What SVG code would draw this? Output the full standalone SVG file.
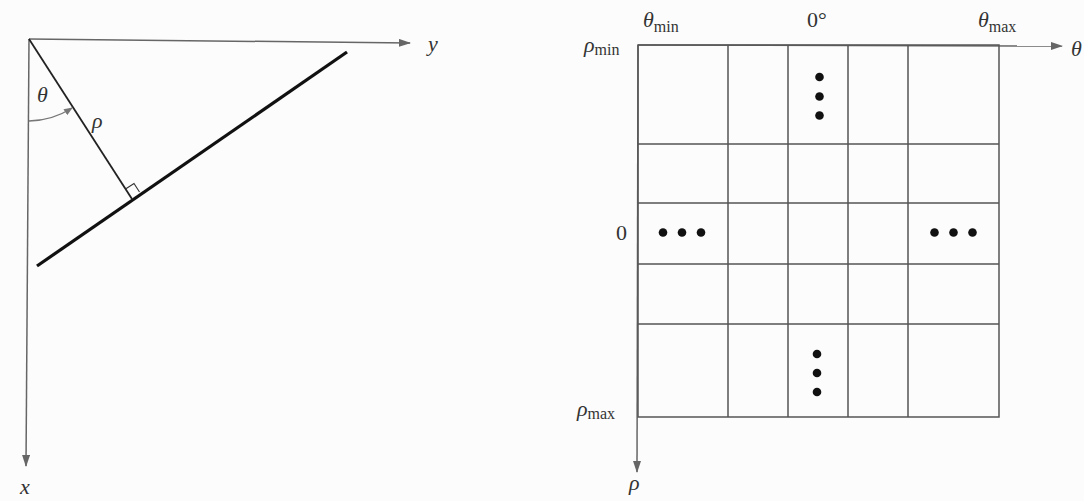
<svg xmlns="http://www.w3.org/2000/svg" width="1084" height="501" viewBox="0 0 1084 501">
<style>
.ax{stroke:#666;stroke-width:1.5;fill:none}
.gr{stroke:#555;stroke-width:1.5;fill:none}
.t{font-family:"Liberation Serif","Times New Roman",serif;font-size:22px;fill:#333}
.i{font-style:italic}
.s{font-size:16px;font-style:normal}
.dot{fill:#111}
</style>
<defs>
<marker id="ah" viewBox="0 0 12 8" refX="11" refY="4" markerWidth="12" markerHeight="8" markerUnits="userSpaceOnUse" orient="auto">
<path d="M0,0 L12,4 L0,8 Z" fill="#666"/>
</marker>
<marker id="ahs" viewBox="0 0 10 8" refX="9" refY="4" markerWidth="9" markerHeight="7" markerUnits="userSpaceOnUse" orient="auto">
<path d="M0,0 L10,4 L0,8 Z" fill="#777"/>
</marker>
</defs>
<rect width="1084" height="501" fill="#fbfcfb"/>
<g id="connectors">
<line id="y-axis" class="ax" x1="29" y1="39" x2="410" y2="43" marker-end="url(#ah)"/>
<line id="x-axis" class="ax" x1="29" y1="39" x2="26" y2="466" marker-end="url(#ah)"/>
<line id="theta-axis" class="ax" x1="638" y1="45" x2="1062" y2="46" marker-end="url(#ah)"/>
<line id="rho-axis" class="ax" x1="638" y1="45" x2="637" y2="472" marker-end="url(#ah)"/>
</g>
<g id="line-diagram">
<line id="line" x1="37" y1="266" x2="347" y2="52" stroke="#111" stroke-width="3.2"/>
<line id="normal" x1="29" y1="39" x2="132" y2="199" stroke="#222" stroke-width="1.8"/>
<path id="right-angle" d="M125.5,189 L134,183.5 L139.5,192" fill="none" stroke="#333" stroke-width="1.1"/>
<path id="theta-arc" d="M29,121 A82,82 0 0 0 72,108" fill="none" stroke="#777" stroke-width="1.3" marker-end="url(#ahs)"/>
<text class="t i" x="37" y="102">θ</text>
<text class="t i" x="92" y="128">ρ</text>
<text class="t i" x="428" y="51">y</text>
<text class="t i" x="20" y="494">x</text>
</g>
<g id="grid">
<rect class="gr" x="638" y="45" width="361" height="372"/>
<line class="gr" x1="728" y1="45" x2="728" y2="417"/>
<line class="gr" x1="788" y1="45" x2="788" y2="417"/>
<line class="gr" x1="848" y1="45" x2="848" y2="417"/>
<line class="gr" x1="908" y1="45" x2="908" y2="417"/>
<line class="gr" x1="638" y1="144" x2="999" y2="144"/>
<line class="gr" x1="638" y1="203" x2="999" y2="203"/>
<line class="gr" x1="638" y1="264" x2="999" y2="264"/>
<line class="gr" x1="638" y1="324" x2="999" y2="324"/>
</g>
<g id="dots-top"><circle class="dot" cx="819.5" cy="77" r="4.3"/><circle class="dot" cx="819.5" cy="96.5" r="4.3"/><circle class="dot" cx="819.5" cy="115.5" r="4.3"/></g>
<g id="dots-left"><circle class="dot" cx="663" cy="232.5" r="4.3"/><circle class="dot" cx="682" cy="232.5" r="4.3"/><circle class="dot" cx="701" cy="232.5" r="4.3"/></g>
<g id="dots-right"><circle class="dot" cx="934.5" cy="232.5" r="4.3"/><circle class="dot" cx="953.5" cy="232.5" r="4.3"/><circle class="dot" cx="972.5" cy="232.5" r="4.3"/></g>
<g id="dots-bottom"><circle class="dot" cx="817" cy="354" r="4.3"/><circle class="dot" cx="817" cy="373" r="4.3"/><circle class="dot" cx="817" cy="392" r="4.3"/></g>
<g id="labels">
<text class="t i" x="584" y="52">ρ<tspan class="s" dy="3">min</tspan></text>
<text class="t i" x="643" y="27">θ<tspan class="s" dy="5">min</tspan></text>
<text class="t" x="807" y="27">0°</text>
<text class="t i" x="978" y="27">θ<tspan class="s" dy="5">max</tspan></text>
<text class="t i" x="1071" y="56">θ</text>
<text class="t" x="616" y="240">0</text>
<text class="t i" x="577" y="416">ρ<tspan class="s" dy="3">max</tspan></text>
<text class="t i" x="629" y="490">ρ</text>
</g>
</svg>
